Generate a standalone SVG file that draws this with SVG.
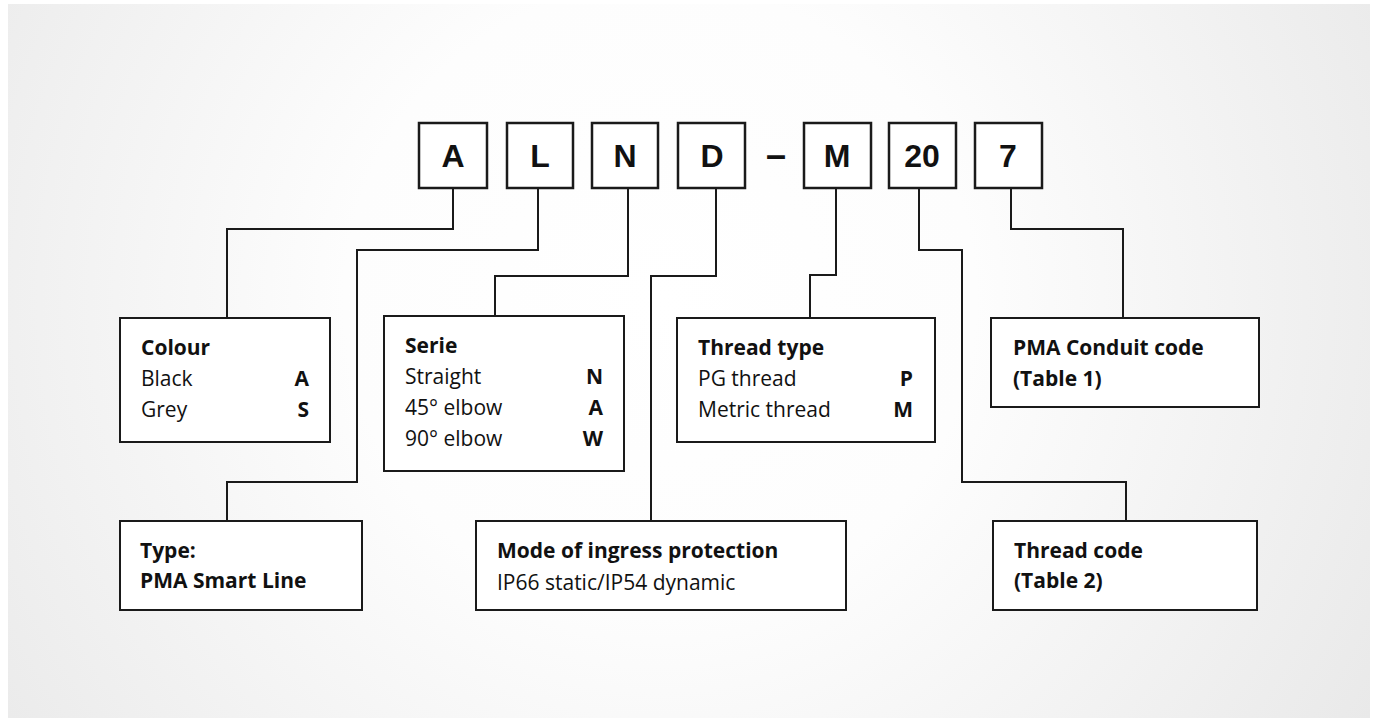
<svg xmlns="http://www.w3.org/2000/svg" width="1377" height="721" viewBox="0 0 1377 721">
<defs>
<radialGradient id="bg" cx="660" cy="300" r="900" gradientUnits="userSpaceOnUse">
<stop offset="0" stop-color="#ffffff"/>
<stop offset="0.35" stop-color="#fdfdfd"/>
<stop offset="1" stop-color="#e6e6e6"/>
</radialGradient>
<style>
.code{fill:#ffffff;stroke:#1a1a1a;stroke-width:2.5}
.box{fill:#ffffff;stroke:#1a1a1a;stroke-width:2}
.big{font-family:"Liberation Sans",Arial,sans-serif;font-weight:bold;font-size:32px;fill:#111;text-anchor:middle}
.h{font-family:"Open Sans","Noto Sans",sans-serif;font-weight:bold;font-size:21px;fill:#111}
.t{font-family:"Open Sans","Noto Sans",sans-serif;font-size:21px;fill:#111}
.r{font-family:"Open Sans","Noto Sans",sans-serif;font-weight:bold;font-size:21px;fill:#111;text-anchor:end}
.ln{fill:none;stroke:#1a1a1a;stroke-width:2}
</style>
</defs>
<rect x="0" y="0" width="1377" height="721" fill="#ffffff"/>
<rect x="8" y="4" width="1362" height="714" fill="url(#bg)"/>

<g id="connectors">
<polyline class="ln" points="453,189 453,229 227,229 227,318"/>
<polyline class="ln" points="538,189 538,250 357,250 357,482 227,482 227,521"/>
<polyline class="ln" points="628,189 628,276 495,276 495,316"/>
<polyline class="ln" points="716,189 716,276 651,276 651,521"/>
<polyline class="ln" points="836,189 836,275 810,275 810,318"/>
<polyline class="ln" points="919,189 919,250 962,250 962,482 1126,482 1126,521"/>
<polyline class="ln" points="1011,189 1011,229 1123,229 1123,318"/>
</g>

<g id="code-A"><rect class="code" x="419" y="123" width="68" height="65"/><text class="big" x="453" y="167">A</text></g>
<g id="code-L"><rect class="code" x="507" y="123" width="66" height="65"/><text class="big" x="540" y="167">L</text></g>
<g id="code-N"><rect class="code" x="592" y="123" width="66" height="65"/><text class="big" x="625" y="167">N</text></g>
<g id="code-D"><rect class="code" x="678" y="123" width="67" height="65"/><text class="big" x="712" y="167">D</text></g>
<g id="dash"><text class="big" x="776" y="167" style="font-size:36px">–</text></g>
<g id="code-M"><rect class="code" x="804" y="123" width="67" height="65"/><text class="big" x="837" y="167">M</text></g>
<g id="code-20"><rect class="code" x="889" y="123" width="67" height="65"/><text class="big" x="922" y="167">20</text></g>
<g id="code-7"><rect class="code" x="975" y="123" width="67" height="65"/><text class="big" x="1008" y="167">7</text></g>

<g id="colour">
<rect class="box" x="120" y="318" width="210" height="124"/>
<text class="h" x="141" y="355">Colour</text>
<text class="t" x="141" y="386">Black</text><text class="r" x="309" y="386">A</text>
<text class="t" x="141" y="417">Grey</text><text class="r" x="309" y="417">S</text>
</g>

<g id="serie">
<rect class="box" x="384" y="316" width="240" height="155"/>
<text class="h" x="405" y="353">Serie</text>
<text class="t" x="405" y="384">Straight</text><text class="r" x="603" y="384">N</text>
<text class="t" x="405" y="415">45° elbow</text><text class="r" x="603" y="415">A</text>
<text class="t" x="405" y="446">90° elbow</text><text class="r" x="603" y="446">W</text>
</g>

<g id="thread-type">
<rect class="box" x="677" y="318" width="258" height="124"/>
<text class="h" x="698" y="355">Thread type</text>
<text class="t" x="698" y="386">PG thread</text><text class="r" x="913" y="386">P</text>
<text class="t" x="698" y="417">Metric thread</text><text class="r" x="913" y="417">M</text>
</g>

<g id="conduit">
<rect class="box" x="991" y="318" width="268" height="89"/>
<text class="h" x="1013" y="355">PMA Conduit code</text>
<text class="h" x="1013" y="386">(Table 1)</text>
</g>

<g id="type">
<rect class="box" x="120" y="521" width="242" height="89"/>
<text class="h" x="140" y="558">Type:</text>
<text class="h" x="140" y="588">PMA Smart Line</text>
</g>

<g id="ingress">
<rect class="box" x="476" y="521" width="370" height="89"/>
<text class="h" x="497" y="558">Mode of ingress protection</text>
<text class="t" x="497" y="590">IP66 static/IP54 dynamic</text>
</g>

<g id="thread-code">
<rect class="box" x="993" y="521" width="264" height="89"/>
<text class="h" x="1014" y="558">Thread code</text>
<text class="h" x="1014" y="588">(Table 2)</text>
</g>
</svg>
